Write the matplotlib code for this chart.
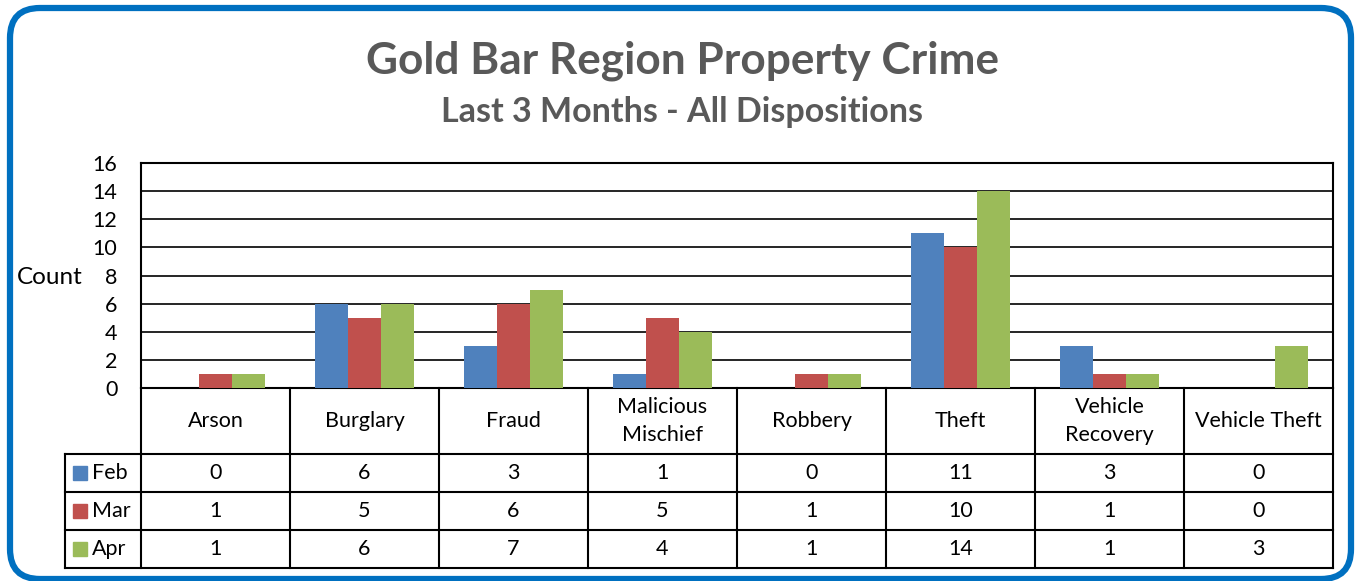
import numpy as np
import matplotlib.pyplot as plt
from matplotlib.patches import FancyBboxPatch, Rectangle

categories = ["Arson", "Burglary", "Fraud", "Malicious\nMischief", "Robbery",
              "Theft", "Vehicle\nRecovery", "Vehicle Theft"]
months = ["Feb", "Mar", "Apr"]
feb = [0, 6, 3, 1, 0, 11, 3, 0]
mar = [1, 5, 6, 5, 1, 10, 1, 0]
apr = [1, 6, 7, 4, 1, 14, 1, 3]
series = [feb, mar, apr]
colors = ["#4F81BD", "#C0504D", "#9BBB59"]

plt.rcParams['font.family'] = ['Lato', 'DejaVu Sans']

W, H = 1356, 581
fig = plt.figure(figsize=(W / 100, H / 100), dpi=100)

# background axes in pixel units for border and titles
bg = fig.add_axes([0, 0, 1, 1])
bg.set_xlim(0, W)
bg.set_ylim(H, 0)
bg.axis("off")
bg.add_patch(FancyBboxPatch((10, 8), 1341, 571, boxstyle="round,pad=0,rounding_size=30",
                            fill=False, edgecolor="#0070C0", linewidth=4.5))
bg.text(682, 61, "Gold Bar Region Property Crime", ha="center", va="center",
        fontsize=31.8, fontweight="bold", color="#595959")
bg.text(682, 112, "Last 3 Months - All Dispositions", ha="center", va="center",
        fontsize=24.5, fontweight="bold", color="#595959")
bg.text(50, 277, "Count", ha="center", va="center", fontsize=17.5)

# chart
px_l, px_r, px_t, px_b = 141, 1333, 163, 388
ax = fig.add_axes([px_l / W, 1 - px_b / H, (px_r - px_l) / W, (px_b - px_t) / H])
x = np.arange(len(categories))
bw = 33 / 149
for i, (vals, c) in enumerate(zip(series, colors)):
    ax.bar(x + (i - 1) * bw, vals, bw, color=c, zorder=3)
ax.set_xlim(-0.5, len(categories) - 0.5)
ax.set_ylim(0, 16)
ax.set_yticks(range(0, 17, 2))
ax.set_xticks([])
ax.yaxis.grid(True, color="black", linewidth=1.2, zorder=0)
ax.tick_params(axis="y", length=0, pad=17, labelsize=15.5)
for s in ax.spines.values():
    s.set_linewidth(1.5)

# data table under the chart
leg_w = 76 / 149
tab_t, tab_b = 388, 568
tax = fig.add_axes([(px_l - 76) / W, 1 - tab_b / H, (px_r - px_l + 76) / W, (tab_b - tab_t) / H])
tax.set_xlim(-0.5 - leg_w, len(categories) - 0.5)
tax.set_ylim(180, 0)
tax.axis("off")
head_h, row_h = 66, 38
lw = 1.5
left = -0.5 - leg_w
for k in range(len(categories) + 1):
    tax.plot([k - 0.5, k - 0.5], [0, 180], color="black", lw=lw, clip_on=False)
tax.plot([left, left], [head_h, 180], color="black", lw=lw, clip_on=False)
for r in range(len(months) + 1):
    yy = head_h + r * row_h
    tax.plot([left, len(categories) - 0.5], [yy, yy], color="black", lw=lw, clip_on=False)
for j, cat in enumerate(categories):
    tax.text(j, head_h / 2, cat, ha="center", va="center", fontsize=15.5, linespacing=1.5)
for r, (m, vals, c) in enumerate(zip(months, series, colors)):
    yc = head_h + (r + 0.5) * row_h
    tax.add_patch(Rectangle((left + 8 / 149, yc - 7), 14 / 149, 14, color=c, clip_on=False))
    tax.text(left + 27 / 149, yc, m, ha="left", va="center", fontsize=15.5)
    for j, v in enumerate(vals):
        tax.text(j, yc, str(v), ha="center", va="center", fontsize=15.5)

fig.savefig("out.png", dpi=100)
